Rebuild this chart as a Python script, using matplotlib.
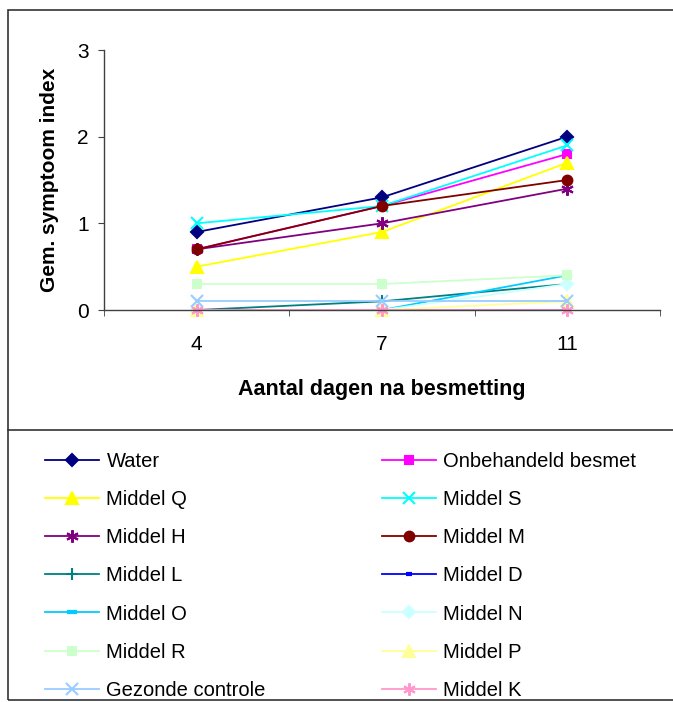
import numpy as np
import matplotlib
matplotlib.use("Agg")
import matplotlib.pyplot as plt
from matplotlib.lines import Line2D
from matplotlib.patches import Rectangle

plt.rcParams['font.family'] = ['Liberation Sans', 'DejaVu Sans']

# data
dagen = ['4', '7', '11']
namen = ['Water', 'Onbehandeld besmet', 'Middel Q', 'Middel S', 'Middel H',
         'Middel M', 'Middel L', 'Middel D', 'Middel O', 'Middel N',
         'Middel R', 'Middel P', 'Gezonde controle', 'Middel K']
water = [0.9, 1.3, 2.0]
onbehandeld = [0.7, 1.2, 1.8]
middel_q = [0.5, 0.9, 1.7]
middel_s = [1.0, 1.2, 1.9]
middel_h = [0.7, 1.0, 1.4]
middel_m = [0.7, 1.2, 1.5]
middel_l = [0.0, 0.1, 0.3]
middel_d = [0.0, 0.0, 0.0]
middel_o = [0.0, 0.0, 0.4]
middel_n = [0.0, 0.0, 0.3]
middel_r = [0.3, 0.3, 0.4]
middel_p = [0.0, 0.0, 0.1]
gezond = [0.1, 0.1, 0.1]
middel_k = [0.0, 0.0, 0.0]
reeksen = [water, onbehandeld, middel_q, middel_s, middel_h, middel_m, middel_l,
           middel_d, middel_o, middel_n, middel_r, middel_p, gezond, middel_k]

kleuren = ['#000080', '#FF00FF', '#FFFF00', '#00FFFF', '#800080', '#800000',
           '#008080', '#0000FF', '#00CCFF', '#CCFFFF', '#CCFFCC', '#FFFF99',
           '#99CCFF', '#FF99CC']
ster = (6, 2, 0)
markers = ['D', 's', '^', 'x', ster, 'o', '+', '_', '_', 'D', 's', '^', 'x', ster]
msizes = [6, 6, 8, 8, 9, 7, 8, 5, 7, 6, 6, 8, 8, 9]

fig = plt.figure(figsize=(6.73, 7.02), dpi=100)
ax = fig.add_axes([104/673, 1-310/702, (660-104)/673, 260/702])

x = np.arange(len(dagen))
lijnen = []
for y, c, m, ms, n in zip(reeksen, kleuren, markers, msizes, namen):
    mew = 3 if m == '_' else 1.5
    l, = ax.plot(x, y, color=c, marker=m, markersize=ms, markerfacecolor=c,
                 markeredgecolor=c, markeredgewidth=mew, lw=1.3, label=n,
                 clip_on=False)
    lijnen.append(l)

ax.set_xlim(-0.5, 2.5)
ax.set_ylim(0, 3)
ax.set_yticks([0, 1, 2, 3])
ax.set_xticks(x)
ax.set_xticklabels(dagen)
ax.set_xticks([-0.5, 0.5, 1.5, 2.5], minor=True)
for s in ['top', 'right']:
    ax.spines[s].set_visible(False)
for s in ['left', 'bottom']:
    ax.spines[s].set_color('#404040')
    ax.spines[s].set_linewidth(1)
ax.tick_params(axis='x', which='major', length=0, pad=18, labelsize=15)
ax.tick_params(axis='x', which='minor', length=4, color='#404040')
ax.tick_params(axis='y', length=4, color='#404040', pad=7, labelsize=15)
ax.set_xlabel('Aantal dagen na besmetting', fontsize=15.5, fontweight='bold', labelpad=18)
ax.set_ylabel('Gem. symptoom index', fontsize=15, fontweight='bold', labelpad=13)

# frame around chart and legend
fig.add_artist(Rectangle((8/673, 1-700/702), 1, 690/702, transform=fig.transFigure,
                         fill=False, edgecolor='#333333', lw=1.2))
fig.add_artist(Line2D([8/673, 1], [1-430/702, 1-430/702], transform=fig.transFigure,
                      color='#333333', lw=1.2))

volgorde = list(range(0, 14, 2)) + list(range(1, 14, 2))
fig.legend([lijnen[i] for i in volgorde], [namen[i] for i in volgorde], ncol=2,
           loc='upper left', bbox_to_anchor=(45/673, 1-452/702), frameon=False,
           fontsize=14.5, handlelength=2.7, handletextpad=0.35, labelspacing=0.95,
           columnspacing=5.75, borderpad=0, borderaxespad=0)

fig.savefig('out.png', dpi=100)
